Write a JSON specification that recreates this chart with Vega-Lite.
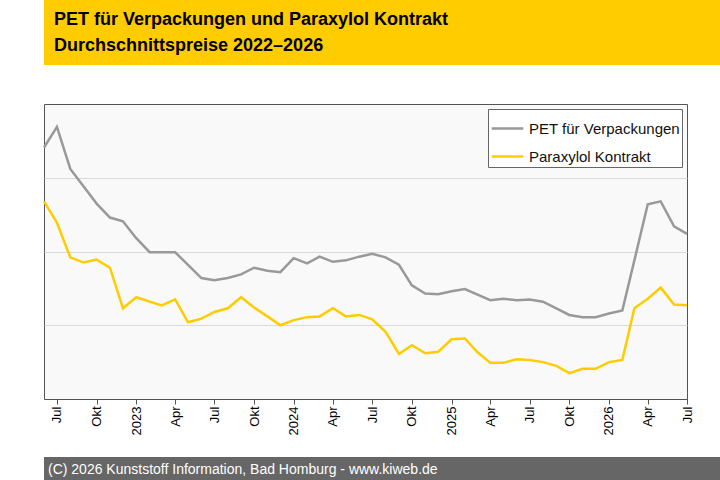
{
  "$schema": "https://vega.github.io/schema/vega-lite/v6.json",
  "background": "white",
  "padding": 0,
  "spacing": 0,
  "config": {"font": "Liberation Sans", "concat": {"spacing": 0}},
  "resolve": {"scale": {"x": "independent", "y": "independent", "color": "independent"}, "legend": {"color": "independent"}, "axis": {"x": "independent", "y": "independent"}},
  "datasets": {
    "prices": [
      {"d":"2022-06-01","s":"PET für Verpackungen","v":3.41},{"d":"2022-07-01","s":"PET für Verpackungen","v":3.69},{"d":"2022-08-01","s":"PET für Verpackungen","v":3.12},{"d":"2022-09-01","s":"PET für Verpackungen","v":2.88},{"d":"2022-10-01","s":"PET für Verpackungen","v":2.65},{"d":"2022-11-01","s":"PET für Verpackungen","v":2.46},{"d":"2022-12-01","s":"PET für Verpackungen","v":2.41},
      {"d":"2023-01-01","s":"PET für Verpackungen","v":2.18},{"d":"2023-02-01","s":"PET für Verpackungen","v":1.99},{"d":"2023-03-01","s":"PET für Verpackungen","v":1.99},{"d":"2023-04-01","s":"PET für Verpackungen","v":1.99},{"d":"2023-05-01","s":"PET für Verpackungen","v":1.82},{"d":"2023-06-01","s":"PET für Verpackungen","v":1.64},{"d":"2023-07-01","s":"PET für Verpackungen","v":1.61},{"d":"2023-08-01","s":"PET für Verpackungen","v":1.64},{"d":"2023-09-01","s":"PET für Verpackungen","v":1.69},{"d":"2023-10-01","s":"PET für Verpackungen","v":1.78},{"d":"2023-11-01","s":"PET für Verpackungen","v":1.74},{"d":"2023-12-01","s":"PET für Verpackungen","v":1.72},
      {"d":"2024-01-01","s":"PET für Verpackungen","v":1.91},{"d":"2024-02-01","s":"PET für Verpackungen","v":1.84},{"d":"2024-03-01","s":"PET für Verpackungen","v":1.93},{"d":"2024-04-01","s":"PET für Verpackungen","v":1.86},{"d":"2024-05-01","s":"PET für Verpackungen","v":1.88},{"d":"2024-06-01","s":"PET für Verpackungen","v":1.93},{"d":"2024-07-01","s":"PET für Verpackungen","v":1.97},{"d":"2024-08-01","s":"PET für Verpackungen","v":1.92},{"d":"2024-09-01","s":"PET für Verpackungen","v":1.82},{"d":"2024-10-01","s":"PET für Verpackungen","v":1.54},{"d":"2024-11-01","s":"PET für Verpackungen","v":1.43},{"d":"2024-12-01","s":"PET für Verpackungen","v":1.42},
      {"d":"2025-01-01","s":"PET für Verpackungen","v":1.46},{"d":"2025-02-01","s":"PET für Verpackungen","v":1.49},{"d":"2025-03-01","s":"PET für Verpackungen","v":1.42},{"d":"2025-04-01","s":"PET für Verpackungen","v":1.34},{"d":"2025-05-01","s":"PET für Verpackungen","v":1.36},{"d":"2025-06-01","s":"PET für Verpackungen","v":1.34},{"d":"2025-07-01","s":"PET für Verpackungen","v":1.35},{"d":"2025-08-01","s":"PET für Verpackungen","v":1.32},{"d":"2025-09-01","s":"PET für Verpackungen","v":1.23},{"d":"2025-10-01","s":"PET für Verpackungen","v":1.14},{"d":"2025-11-01","s":"PET für Verpackungen","v":1.11},{"d":"2025-12-01","s":"PET für Verpackungen","v":1.11},
      {"d":"2026-01-01","s":"PET für Verpackungen","v":1.16},{"d":"2026-02-01","s":"PET für Verpackungen","v":1.2},{"d":"2026-03-01","s":"PET für Verpackungen","v":1.88},{"d":"2026-04-01","s":"PET für Verpackungen","v":2.64},{"d":"2026-05-01","s":"PET für Verpackungen","v":2.68},{"d":"2026-06-01","s":"PET für Verpackungen","v":2.34},{"d":"2026-07-01","s":"PET für Verpackungen","v":2.24},
      {"d":"2022-06-01","s":"Paraxylol Kontrakt","v":2.68},{"d":"2022-07-01","s":"Paraxylol Kontrakt","v":2.39},{"d":"2022-08-01","s":"Paraxylol Kontrakt","v":1.92},{"d":"2022-09-01","s":"Paraxylol Kontrakt","v":1.85},{"d":"2022-10-01","s":"Paraxylol Kontrakt","v":1.89},{"d":"2022-11-01","s":"Paraxylol Kontrakt","v":1.78},{"d":"2022-12-01","s":"Paraxylol Kontrakt","v":1.23},
      {"d":"2023-01-01","s":"Paraxylol Kontrakt","v":1.38},{"d":"2023-02-01","s":"Paraxylol Kontrakt","v":1.32},{"d":"2023-03-01","s":"Paraxylol Kontrakt","v":1.27},{"d":"2023-04-01","s":"Paraxylol Kontrakt","v":1.35},{"d":"2023-05-01","s":"Paraxylol Kontrakt","v":1.04},{"d":"2023-06-01","s":"Paraxylol Kontrakt","v":1.09},{"d":"2023-07-01","s":"Paraxylol Kontrakt","v":1.18},{"d":"2023-08-01","s":"Paraxylol Kontrakt","v":1.23},{"d":"2023-09-01","s":"Paraxylol Kontrakt","v":1.38},{"d":"2023-10-01","s":"Paraxylol Kontrakt","v":1.24},{"d":"2023-11-01","s":"Paraxylol Kontrakt","v":1.12},{"d":"2023-12-01","s":"Paraxylol Kontrakt","v":1.0},
      {"d":"2024-01-01","s":"Paraxylol Kontrakt","v":1.07},{"d":"2024-02-01","s":"Paraxylol Kontrakt","v":1.11},{"d":"2024-03-01","s":"Paraxylol Kontrakt","v":1.12},{"d":"2024-04-01","s":"Paraxylol Kontrakt","v":1.23},{"d":"2024-05-01","s":"Paraxylol Kontrakt","v":1.12},{"d":"2024-06-01","s":"Paraxylol Kontrakt","v":1.14},{"d":"2024-07-01","s":"Paraxylol Kontrakt","v":1.08},{"d":"2024-08-01","s":"Paraxylol Kontrakt","v":0.91},{"d":"2024-09-01","s":"Paraxylol Kontrakt","v":0.61},{"d":"2024-10-01","s":"Paraxylol Kontrakt","v":0.73},{"d":"2024-11-01","s":"Paraxylol Kontrakt","v":0.62},{"d":"2024-12-01","s":"Paraxylol Kontrakt","v":0.64},
      {"d":"2025-01-01","s":"Paraxylol Kontrakt","v":0.81},{"d":"2025-02-01","s":"Paraxylol Kontrakt","v":0.82},{"d":"2025-03-01","s":"Paraxylol Kontrakt","v":0.64},{"d":"2025-04-01","s":"Paraxylol Kontrakt","v":0.49},{"d":"2025-05-01","s":"Paraxylol Kontrakt","v":0.49},{"d":"2025-06-01","s":"Paraxylol Kontrakt","v":0.54},{"d":"2025-07-01","s":"Paraxylol Kontrakt","v":0.53},{"d":"2025-08-01","s":"Paraxylol Kontrakt","v":0.5},{"d":"2025-09-01","s":"Paraxylol Kontrakt","v":0.45},{"d":"2025-10-01","s":"Paraxylol Kontrakt","v":0.35},{"d":"2025-11-01","s":"Paraxylol Kontrakt","v":0.41},{"d":"2025-12-01","s":"Paraxylol Kontrakt","v":0.41},
      {"d":"2026-01-01","s":"Paraxylol Kontrakt","v":0.5},{"d":"2026-02-01","s":"Paraxylol Kontrakt","v":0.53},{"d":"2026-03-01","s":"Paraxylol Kontrakt","v":1.23},{"d":"2026-04-01","s":"Paraxylol Kontrakt","v":1.36},{"d":"2026-05-01","s":"Paraxylol Kontrakt","v":1.51},{"d":"2026-06-01","s":"Paraxylol Kontrakt","v":1.28},{"d":"2026-07-01","s":"Paraxylol Kontrakt","v":1.27}
    ],
    "header": [{"t": "PET für Verpackungen und Paraxylol Kontrakt", "r": 1}, {"t": "Durchschnittspreise 2022–2026", "r": 2}],
    "footer": [{"t": "(C) 2026 Kunststoff Information, Bad Homburg - www.kiweb.de"}]
  },
  "vconcat": [
    {
      "width": 720,
      "height": 65,
      "view": {"fill": "#ffcc00", "stroke": null},
      "data": {"name": "header"},
      "mark": {"type": "text", "align": "left", "baseline": "middle", "fontSize": 18, "fontWeight": "bold", "color": "black"},
      "encoding": {
        "x": {"value": 10},
        "y": {"field": "r", "type": "quantitative", "scale": {"domain": [0.25, 2.75], "reverse": true}, "axis": null},
        "text": {"field": "t"}
      }
    },
    {
      "width": 643,
      "height": 295,
      "title": {"text": " ", "fontSize": 10, "offset": 28},
      "view": {"fill": "#f9f9f9", "stroke": "#555555"},
      "data": {"name": "prices"},
      "mark": {"type": "line", "strokeWidth": 2.5},
      "encoding": {
        "x": {
          "field": "d", "type": "temporal",
          "scale": {"type": "utc", "domain": [{"year": 2022, "month": 6, "date": 1, "utc": true}, {"year": 2026, "month": 7, "date": 1, "utc": true}]},
          "axis": {
            "title": null, "grid": false, "domainColor": "#555555", "tickColor": "#555555",
            "values": [
              {"year":2022,"month":7,"date":1,"utc":true},{"year":2022,"month":10,"date":1,"utc":true},
              {"year":2023,"month":1,"date":1,"utc":true},{"year":2023,"month":4,"date":1,"utc":true},{"year":2023,"month":7,"date":1,"utc":true},{"year":2023,"month":10,"date":1,"utc":true},
              {"year":2024,"month":1,"date":1,"utc":true},{"year":2024,"month":4,"date":1,"utc":true},{"year":2024,"month":7,"date":1,"utc":true},{"year":2024,"month":10,"date":1,"utc":true},
              {"year":2025,"month":1,"date":1,"utc":true},{"year":2025,"month":4,"date":1,"utc":true},{"year":2025,"month":7,"date":1,"utc":true},{"year":2025,"month":10,"date":1,"utc":true},
              {"year":2026,"month":1,"date":1,"utc":true},{"year":2026,"month":4,"date":1,"utc":true},{"year":2026,"month":7,"date":1,"utc":true}
            ],
            "labelExpr": "utcmonth(datum.value) == 0 ? utcyear(datum.value) + '' : ['Jan','Feb','Mrz','Apr','Mai','Jun','Jul','Aug','Sep','Okt','Nov','Dez'][utcmonth(datum.value)]",
            "labelAngle": 270, "labelAlign": "right", "labelBaseline": "middle", "labelFontSize": 13, "labelColor": "black",
            "labelOverlap": false, "labelFlush": false, "tickSize": 5, "minExtent": 57, "maxExtent": 57
          }
        },
        "y": {
          "field": "v", "type": "quantitative",
          "scale": {"domain": [0, 4], "nice": false},
          "axis": {"title": null, "labels": false, "ticks": false, "domain": false, "values": [1, 2, 3], "gridColor": "#d9d9d9", "minExtent": 43, "maxExtent": 43}
        },
        "color": {
          "field": "s", "type": "nominal",
          "scale": {"domain": ["PET für Verpackungen", "Paraxylol Kontrakt"], "range": ["#999999", "#ffcc00"]},
          "legend": {
            "title": null, "orient": "top-right", "offset": 5, "fillColor": "white", "strokeColor": "#666666",
            "padding": 2, "labelFontSize": 15, "labelOffset": 4, "labelColor": "#111111", "symbolType": "stroke", "symbolSize": 1000, "symbolStrokeWidth": 2.5, "rowPadding": 2
          }
        }
      }
    },
    {
      "width": 720,
      "height": 25,
      "view": {"fill": "#666666", "stroke": null},
      "data": {"name": "footer"},
      "mark": {"type": "text", "align": "left", "baseline": "middle", "fontSize": 14, "color": "white"},
      "encoding": {"x": {"value": 4}, "y": {"value": 12.5}, "text": {"field": "t"}}
    }
  ]
}
